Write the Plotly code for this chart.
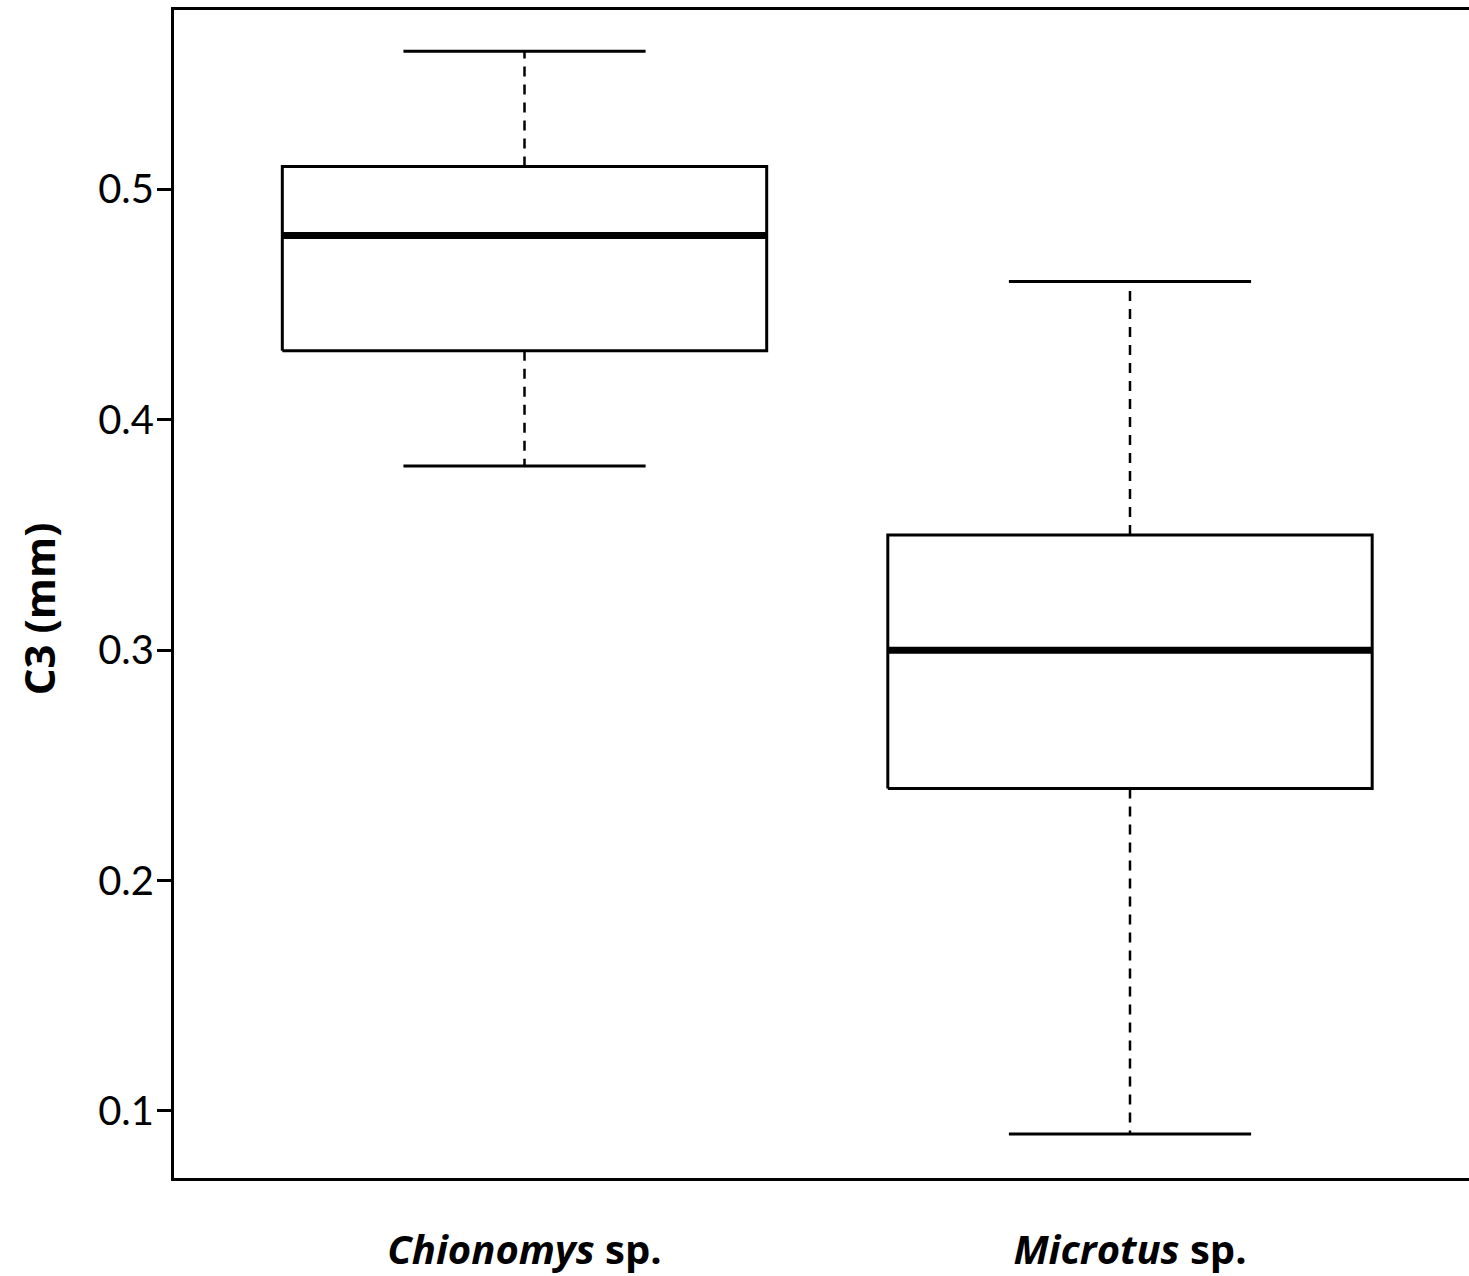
import plotly.graph_objects as go

# Data
categories = ["Chionomys", "Microtus"]
tick_labels = ["<b><i>Chionomys</i> sp.</b>", "<b><i>Microtus</i> sp.</b>"]
lower_whisker = [0.38, 0.09]
q1 = [0.43, 0.24]
median = [0.48, 0.30]
q3 = [0.51, 0.35]
upper_whisker = [0.56, 0.46]
y_ticks = [0.1, 0.2, 0.3, 0.4, 0.5]

BOX_W = 0.8
CAP_W = 0.4
FONT = "Lato"
FONT2 = "Open Sans"

fig = go.Figure()

for i, cat in enumerate(categories):
    x = i
    # dashed whiskers
    fig.add_trace(go.Scatter(
        x=[x, x, None, x, x],
        y=[q3[i], upper_whisker[i], None, q1[i], lower_whisker[i]],
        mode="lines", line=dict(color="black", width=2.5, dash="10px,8px"),
        hoverinfo="skip", showlegend=False))
    # caps
    fig.add_trace(go.Scatter(
        x=[x - CAP_W / 2, x + CAP_W / 2, None, x - CAP_W / 2, x + CAP_W / 2],
        y=[upper_whisker[i], upper_whisker[i], None, lower_whisker[i], lower_whisker[i]],
        mode="lines", line=dict(color="black", width=3),
        hoverinfo="skip", showlegend=False))
    # box
    fig.add_trace(go.Scatter(
        x=[x - BOX_W / 2, x + BOX_W / 2, x + BOX_W / 2, x - BOX_W / 2, x - BOX_W / 2],
        y=[q1[i], q1[i], q3[i], q3[i], q1[i]],
        mode="lines", fill="toself", fillcolor="white",
        line=dict(color="black", width=3),
        hoverinfo="skip", showlegend=False))
    # median
    fig.add_trace(go.Scatter(
        x=[x - BOX_W / 2, x + BOX_W / 2],
        y=[median[i], median[i]],
        mode="lines", line=dict(color="black", width=7),
        hoverinfo="skip", showlegend=False))

fig.update_layout(
    width=1469, height=1276,
    margin=dict(l=174, r=0, t=10, b=98),
    paper_bgcolor="white", plot_bgcolor="white",
    font=dict(family=FONT, color="black"),
    showlegend=False,
    xaxis=dict(
        range=[-0.5789, 1.5599],
        tickvals=[0, 1], ticktext=tick_labels,
        ticks="", showgrid=False, zeroline=False,
        showline=True, linecolor="black", linewidth=3, mirror=True,
        tickfont=dict(family=FONT2, size=40, color="black"),
        ticklabelstandoff=35,
    ),
    yaxis=dict(
        range=[0.0709, 0.5779],
        tickvals=y_ticks, ticktext=[str(v) for v in y_ticks],
        ticks="outside", ticklen=14, tickwidth=3, tickcolor="black",
        showgrid=False, zeroline=False,
        showline=True, linecolor="black", linewidth=3,
        tickfont=dict(family=FONT, size=40, color="black"),
        ticklabelstandoff=-5,
    ),
    annotations=[dict(
        text="<b>C3 (mm)</b>", textangle=-90,
        xref="paper", yref="paper", x=0, y=0.487,
        xanchor="center", yanchor="middle", xshift=-136,
        showarrow=False, font=dict(family=FONT2, size=42, color="black"),
    )],
)

fig.write_html("out.html")
